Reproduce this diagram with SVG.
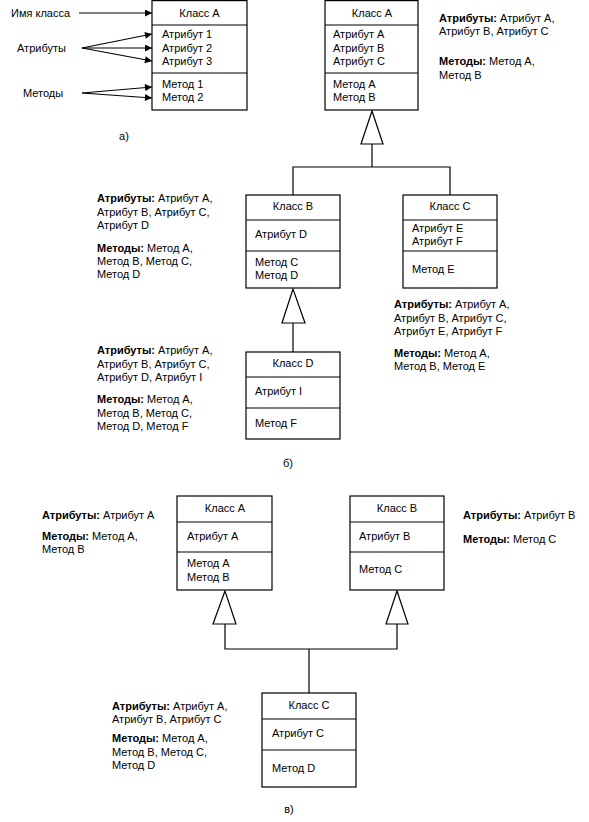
<svg xmlns="http://www.w3.org/2000/svg" width="589" height="822" viewBox="0 0 589 822">
<style>
text{font-family:"Liberation Sans",Arial,sans-serif;font-size:11px;fill:#000}
.c{text-anchor:middle}
.b{font-weight:bold}
rect,.ln{fill:#fff;stroke:#000;stroke-width:1.2}
.ln{fill:none}
.tri{fill:#fff;stroke:#000;stroke-width:1.2}
</style>
<defs>
<marker id="ar" viewBox="0 0 10 10" refX="10" refY="5" markerWidth="9" markerHeight="7" markerUnits="userSpaceOnUse" orient="auto">
<path d="M0,0 L10,5 L0,10 z" fill="#000"/>
</marker>
</defs>
<rect x="0" y="0" width="589" height="822" style="stroke:none"/>

<g id="connectors">
<line class="ln" x1="79" y1="13" x2="152" y2="13" marker-end="url(#ar)"/>
<line class="ln" x1="82" y1="48" x2="152" y2="34" marker-end="url(#ar)"/>
<line class="ln" x1="82" y1="48" x2="152" y2="48" marker-end="url(#ar)"/>
<line class="ln" x1="82" y1="48" x2="152" y2="61" marker-end="url(#ar)"/>
<line class="ln" x1="82" y1="93" x2="152" y2="87" marker-end="url(#ar)"/>
<line class="ln" x1="82" y1="93" x2="152" y2="98" marker-end="url(#ar)"/>
<polygon class="tri" points="372,111 361,144 383,144"/>
<polyline class="ln" points="372,144 372,167"/>
<polyline class="ln" points="293,195 293,167 450,167 450,195"/>
<polygon class="tri" points="293,289 282,323 305,323"/>
<line class="ln" x1="293" y1="323" x2="293" y2="352"/>
<polygon class="tri" points="225,591 213,624 236,624"/>
<polygon class="tri" points="397,591 386,624 408,624"/>
<polyline class="ln" points="225,624 225,649 397,649 397,624"/>
<line class="ln" x1="309" y1="649" x2="309" y2="693"/>
</g>

<g id="labels-a">
<text x="11" y="17">Имя класса</text>
<text x="17" y="52">Атрибуты</text>
<text x="23" y="97">Методы</text>
<text class="c" x="124" y="140">а)</text>
</g>

<g id="classA-a">
<rect x="152" y="0.6" width="95" height="109.4"/>
<line class="ln" x1="152" y1="25" x2="247" y2="25"/>
<line class="ln" x1="152" y1="73" x2="247" y2="73"/>
<text class="c" x="199.5" y="17">Класс А</text>
<text x="162" y="38">Атрибут 1</text>
<text x="162" y="52">Атрибут 2</text>
<text x="162" y="65">Атрибут 3</text>
<text x="162" y="88">Метод 1</text>
<text x="162" y="101">Метод 2</text>
</g>

<g id="classA-b">
<rect x="325" y="0.6" width="93" height="109.4"/>
<line class="ln" x1="325" y1="25" x2="418" y2="25"/>
<line class="ln" x1="325" y1="73" x2="418" y2="73"/>
<text class="c" x="372" y="17">Класс А</text>
<text x="333" y="38">Атрибут А</text>
<text x="333" y="52">Атрибут В</text>
<text x="333" y="65">Атрибут С</text>
<text x="333" y="88">Метод А</text>
<text x="333" y="101">Метод В</text>
</g>
<g id="note-A-b">
<text x="439" y="22"><tspan class="b">Атрибуты:</tspan> Атрибут А,</text>
<text x="439" y="35">Атрибут В, Атрибут С</text>
<text x="439" y="65"><tspan class="b">Методы:</tspan> Метод А,</text>
<text x="439" y="79">Метод В</text>
</g>

<g id="classB-b">
<rect x="246" y="195" width="94" height="93"/>
<line class="ln" x1="246" y1="220" x2="340" y2="220"/>
<line class="ln" x1="246" y1="251" x2="340" y2="251"/>
<text class="c" x="293" y="210">Класс В</text>
<text x="255" y="238">Атрибут D</text>
<text x="255" y="266">Метод С</text>
<text x="255" y="279">Метод D</text>
</g>
<g id="note-B-b">
<text x="97" y="202"><tspan class="b">Атрибуты:</tspan> Атрибут А,</text>
<text x="97" y="216">Атрибут В, Атрибут С,</text>
<text x="97" y="229">Атрибут D</text>
<text x="97" y="252"><tspan class="b">Методы:</tspan> Метод А,</text>
<text x="97" y="265">Метод В, Метод С,</text>
<text x="97" y="278">Метод D</text>
</g>

<g id="classC-b">
<rect x="403" y="195" width="94" height="93"/>
<line class="ln" x1="403" y1="220" x2="497" y2="220"/>
<line class="ln" x1="403" y1="251" x2="497" y2="251"/>
<text class="c" x="450" y="210">Класс С</text>
<text x="412" y="232">Атрибут Е</text>
<text x="412" y="245">Атрибут F</text>
<text x="412" y="273">Метод Е</text>
</g>
<g id="note-C-b">
<text x="394" y="308"><tspan class="b">Атрибуты:</tspan> Атрибут А,</text>
<text x="394" y="322">Атрибут В, Атрибут С,</text>
<text x="394" y="335">Атрибут Е, Атрибут F</text>
<text x="394" y="357"><tspan class="b">Методы:</tspan> Метод А,</text>
<text x="394" y="370">Метод В, Метод Е</text>
</g>

<g id="classD-b">
<rect x="246" y="352" width="94" height="87"/>
<line class="ln" x1="246" y1="377" x2="340" y2="377"/>
<line class="ln" x1="246" y1="408" x2="340" y2="408"/>
<text class="c" x="293" y="367">Класс D</text>
<text x="255" y="395">Атрибут I</text>
<text x="255" y="427">Метод F</text>
</g>
<g id="note-D-b">
<text x="97" y="354"><tspan class="b">Атрибуты:</tspan> Атрибут А,</text>
<text x="97" y="368">Атрибут В, Атрибут С,</text>
<text x="97" y="381">Атрибут D, Атрибут I</text>
<text x="97" y="403"><tspan class="b">Методы:</tspan> Метод А,</text>
<text x="97" y="417">Метод В, Метод С,</text>
<text x="97" y="430">Метод D, Метод F</text>
<text class="c" x="288" y="467">б)</text>
</g>

<g id="classA-v">
<rect x="177" y="496" width="95" height="94"/>
<line class="ln" x1="177" y1="522" x2="272" y2="522"/>
<line class="ln" x1="177" y1="552" x2="272" y2="552"/>
<text class="c" x="225" y="512">Класс А</text>
<text x="187" y="540">Атрибут А</text>
<text x="187" y="567">Метод А</text>
<text x="187" y="581">Метод В</text>
</g>
<g id="note-A-v">
<text x="42" y="519"><tspan class="b">Атрибуты:</tspan> Атрибут А</text>
<text x="42" y="540"><tspan class="b">Методы:</tspan> Метод А,</text>
<text x="42" y="553">Метод В</text>
</g>

<g id="classB-v">
<rect x="350" y="496" width="94" height="94"/>
<line class="ln" x1="350" y1="522" x2="444" y2="522"/>
<line class="ln" x1="350" y1="552" x2="444" y2="552"/>
<text class="c" x="397" y="512">Класс В</text>
<text x="359" y="540">Атрибут В</text>
<text x="359" y="573">Метод С</text>
</g>
<g id="note-B-v">
<text x="463" y="519"><tspan class="b">Атрибуты:</tspan> Атрибут В</text>
<text x="463" y="543"><tspan class="b">Методы:</tspan> Метод С</text>
</g>

<g id="classC-v">
<rect x="262" y="693" width="94" height="94"/>
<line class="ln" x1="262" y1="719" x2="356" y2="719"/>
<line class="ln" x1="262" y1="750" x2="356" y2="750"/>
<text class="c" x="309" y="709">Класс С</text>
<text x="272" y="737">Атрибут С</text>
<text x="272" y="772">Метод D</text>
</g>
<g id="note-C-v">
<text x="112" y="710"><tspan class="b">Атрибуты:</tspan> Атрибут А,</text>
<text x="112" y="723">Атрибут В, Атрибут С</text>
<text x="112" y="742"><tspan class="b">Методы:</tspan> Метод А,</text>
<text x="112" y="756">Метод В, Метод С,</text>
<text x="112" y="769">Метод D</text>
<text class="c" x="289" y="813">в)</text>
</g>
</svg>
